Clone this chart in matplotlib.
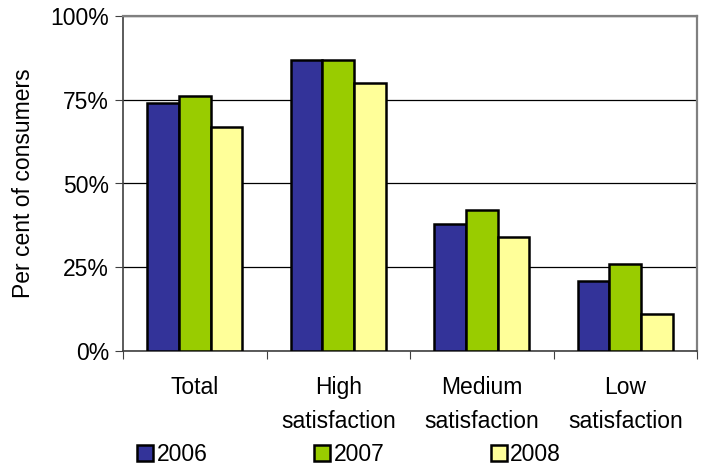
import numpy as np
import matplotlib.pyplot as plt
from matplotlib.ticker import FuncFormatter

plt.rcParams['font.family'] = ['Liberation Sans', 'DejaVu Sans']

categories = ['Total', 'High\nsatisfaction', 'Medium\nsatisfaction', 'Low\nsatisfaction']
years = ['2006', '2007', '2008']
v2006 = [74, 87, 38, 21]
v2007 = [76, 87, 42, 26]
v2008 = [67, 80, 34, 11]
colors = ['#333399', '#99CC00', '#FFFF99']

fs = 16.5

fig = plt.figure(figsize=(7.05, 4.65), dpi=100)
ax = fig.add_axes([123/705, 1-351/465, 574/705, 335/465])

x = np.arange(len(categories))
w = 0.22
for i, (vals, yr, c) in enumerate(zip([v2006, v2007, v2008], years, colors)):
    ax.bar(x + (i-1)*w, vals, w, color=c, edgecolor='black', linewidth=1.8,
           label=yr, zorder=3)

ax.set_xlim(-0.5, len(categories)-0.5)
ax.set_ylim(0, 100)
ax.set_yticks([0, 25, 50, 75, 100])
ax.yaxis.set_major_formatter(FuncFormatter(lambda v, p: '%d%%' % v))
ax.yaxis.grid(True, color='black', linewidth=0.9, zorder=0)

# boundary ticks below the axis, labels centred under each group
ax.set_xticks(np.arange(-0.5, len(categories), 1.0))
ax.set_xticklabels([])
ax.set_xticks(x, minor=True)
ax.set_xticklabels(categories, minor=True, linespacing=1.6)
ax.tick_params(axis='x', which='major', direction='out', length=6, color='#404040')
ax.tick_params(axis='x', which='minor', length=0, pad=18, labelsize=fs)
ax.tick_params(axis='y', direction='out', length=6, color='#404040', labelsize=fs, pad=4)

for s in ['top', 'right']:
    ax.spines[s].set_color('#808080')
    ax.spines[s].set_linewidth(1.6)
ax.spines['left'].set_color('#404040')
ax.spines['bottom'].set_color('#404040')
ax.spines['left'].set_linewidth(1.2)
ax.spines['bottom'].set_linewidth(1.2)

ax.set_ylabel('Per cent of consumers', fontsize=fs, labelpad=11)

fig.legend(loc='lower left', bbox_to_anchor=(128/705, -0.022), ncol=3, frameon=False,
           fontsize=fs, handlelength=0.7, handleheight=0.7, handletextpad=0.15,
           columnspacing=4.65, borderaxespad=0)

fig.savefig('out.png', dpi=100)
